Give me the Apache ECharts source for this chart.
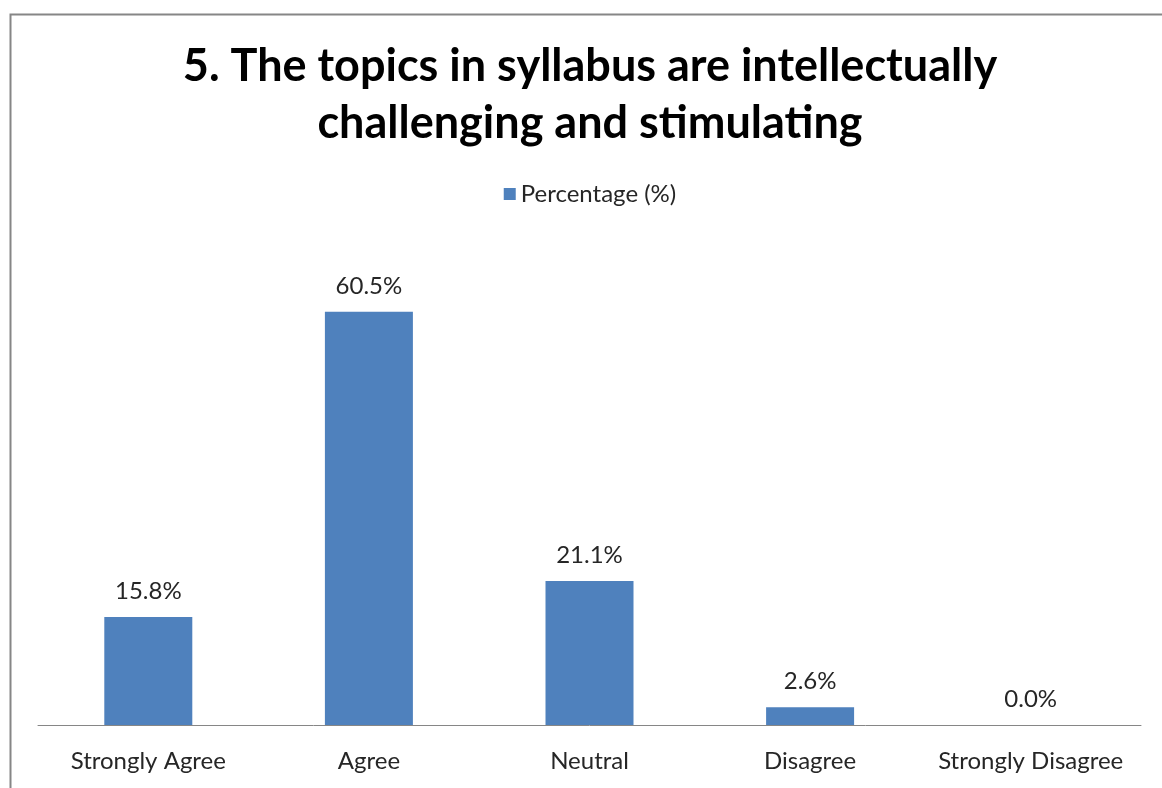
<!DOCTYPE html>
<html>
<head>
<meta charset="utf-8">
<script src="https://cdn.jsdelivr.net/npm/echarts@6/dist/echarts.min.js"></script>
<style>
html,body{margin:0;padding:0;background:#fff;overflow:hidden;}
#c{width:1180px;height:788px;}
</style>
</head>
<body>
<div id="c"></div>
<script>
var categories = ["Strongly Agree", "Agree", "Neutral", "Disagree", "Strongly Disagree"];
var percentages = [15.8, 60.5, 21.1, 2.6, 0.0];
var seriesName = "Percentage (%)";
var titleText = "5. The topics in syllabus are intellectually\nchallenging and stimulating";

var chart = echarts.init(document.getElementById('c'));
var FONT = 'Lato, "Open Sans", sans-serif';
chart.setOption({
  animation: false,
  backgroundColor: '#fff',
  graphic: [{
    type: 'rect', left: 8, top: 12,
    shape: {width: 1300, height: 900},
    style: {fill: 'none', stroke: '#868686', lineWidth: 2},
    silent: true
  }],
  title: {
    text: titleText,
    left: 'center', top: 33,
    textStyle: {fontFamily: FONT, fontWeight: 'bold', fontSize: 45, lineHeight: 57, color: '#000'}
  },
  legend: {
    data: [seriesName], top: 177, left: 'center',
    icon: 'rect', itemWidth: 12, itemHeight: 12, itemGap: 8,
    textStyle: {fontFamily: FONT, fontSize: 24, color: '#262626'}
  },
  grid: {left: 38, right: 39, top: 247, bottom: 63},
  xAxis: {
    type: 'category', data: categories,
    axisLine: {lineStyle: {color: '#868686', width: 1}},
    axisTick: {show: false},
    axisLabel: {fontFamily: FONT, fontSize: 24, color: '#262626', margin: 24, interval: 0}
  },
  yAxis: {
    type: 'value', min: 0, max: 70, show: false,
    splitLine: {show: false}
  },
  series: [{
    name: seriesName, type: 'bar', data: percentages, barWidth: 88,
    itemStyle: {color: '#4F81BD'},
    label: {show: true, position: 'top', distance: 14, fontFamily: FONT, fontSize: 24, color: '#262626',
      formatter: function(p){ return p.value.toFixed(1) + '%'; }}
  }]
});
</script>
</body>
</html>
